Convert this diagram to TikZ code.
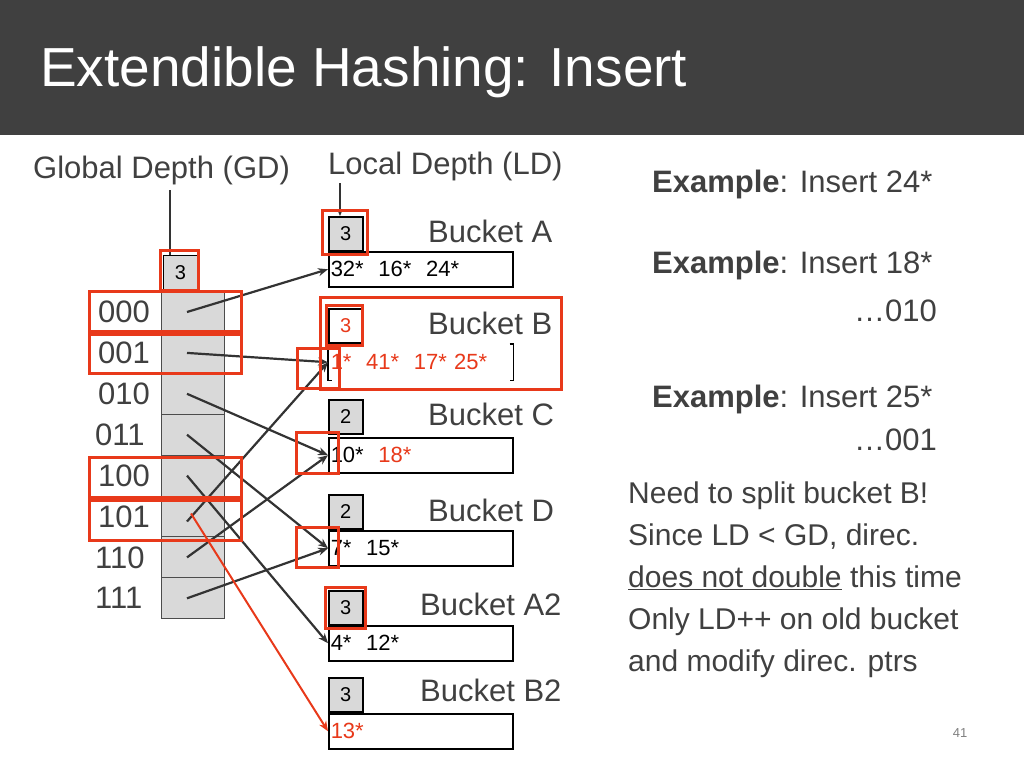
\documentclass[tikz,border=0pt]{standalone}
\usepackage{fontspec}
\setmainfont{Liberation Sans}
\usetikzlibrary{arrows.meta}
\definecolor{bar}{HTML}{404040}
\definecolor{txt}{HTML}{404040}
\definecolor{hl}{HTML}{E8391A}
\definecolor{cellg}{HTML}{D9D9D9}
\begin{document}
\begin{tikzpicture}[x=1pt,y=-1pt,
  cell/.style={draw=black!70,fill=cellg,minimum width=63pt,minimum height=40.9pt,inner sep=0pt,anchor=north west},
  ldbox/.style={draw=black,line width=1.5pt,fill=cellg,minimum width=34pt,minimum height=34pt,inner sep=0pt,anchor=north west,font=\fontsize{20}{20}\selectfont},
  bucket/.style={draw=black,line width=1.5pt,fill=white,minimum width=184pt,minimum height=35pt,inner sep=2pt,anchor=north west,text width=180pt,align=left,font=\fontsize{22}{22}\selectfont},
  lab/.style={text=txt,font=\fontsize{31}{31}\selectfont,inner sep=0pt},
  redbox/.style={draw=hl,line width=3pt},
  ptr/.style={draw=black!80,line width=2.2pt,-{Stealth[length=10pt,width=8pt]}},
  rptr/.style={draw=hl,line width=2pt,-{Stealth[length=10pt,width=8pt]}}]
\useasboundingbox (0,0) rectangle (1024,768);
\fill[bar] (0,0) rectangle (1024,135);
\node[anchor=west,text=white,font=\fontsize{55}{55}\selectfont,inner sep=0pt] (title) at (40,72) {Extendible Hashing: Insert};
% headers
\node[lab,anchor=west] (gdh) at (33,170) {Global Depth (GD)};
\node[lab,anchor=west] (ldh) at (328,166) {Local Depth (LD)};
% directory
\node[ldbox,line width=0.8pt] (gd) at (163,255) {3};
\foreach \i/\b in {0/000,1/001,2/010,3/011,4/100,5/101,6/110,7/111}{
  \node[cell] (c\i) at (161,{291+\i*40.9}) {};
  \node[lab,anchor=west] (l\i) at ({\i==3 ? 95 : (\i>5 ? 95 : 98)},{312+\i*40.9}) {\b};
  \coordinate (p\i) at (187,{312+\i*40.9});
}
\coordinate (gdtop) at (170,190);
\draw[black!80,line width=1.2pt] (gdtop) -- (gd.north west -| gdtop);
% buckets
\node[ldbox] (lda) at (328,216) {3};
\node[bucket] (ba) at (328,251) {32*\ \ 16*\ \ 24*};
\node[lab,anchor=west] (na) at (428,231) {Bucket A};
\node[ldbox,fill=white] (ldb) at (328,308) {\textcolor{hl}{3}};
\node[bucket,draw=none] (bb) at (328,344) {\textcolor{hl}{1*\ \ 41*\ \ 17* 25*}};
\draw[line width=1.5pt] ([xshift=4pt]bb.north west) -- (bb.north west) -- (bb.south west) -- ([xshift=4pt]bb.south west);
\draw[line width=1.5pt] ([xshift=-4pt]bb.north east) -- (bb.north east) -- (bb.south east) -- ([xshift=-4pt]bb.south east);
\node[lab,anchor=west] (nb) at (428,323) {Bucket B};
\node[ldbox] (ldc) at (328,399) {2};
\node[bucket] (bc) at (328,437) {10*\ \ \textcolor{hl}{18*}};
\node[lab,anchor=west] (nc) at (428,414) {Bucket C};
\node[ldbox] (ldd) at (328,494) {2};
\node[bucket] (bd) at (328,530) {7*\ \ 15*};
\node[lab,anchor=west] (nd) at (428,510) {Bucket D};
\node[ldbox] (lda2) at (328,590) {3};
\node[bucket] (ba2) at (328,625) {4*\ \ 12*};
\node[lab,anchor=west] (na2) at (420,604) {Bucket A2};
\node[ldbox] (ldb2) at (328,677) {3};
\node[bucket] (bb2) at (328,713) {\textcolor{hl}{13*}};
\node[lab,anchor=west] (nb2) at (420,690) {Bucket B2};
\coordinate (ldtop) at (340,183);
\draw[black!80,line width=1.2pt,-{Stealth[length=6pt,width=5pt]}] (ldtop) -- (lda.north -| ldtop);
% pointers
\draw[ptr] (p0) -- (ba.west);
\draw[ptr] (p1) -- (bb.west);
\draw[ptr] (p2) -- (bc.west);
\draw[ptr] (p3) -- (bd.west);
\draw[ptr] (p4) -- (ba2.west);
\draw[ptr] ([yshift=-5pt]p5) -- (bb.west);
\draw[ptr] (p6) -- (bc.west);
\draw[ptr] (p7) -- (bd.west);
\draw[rptr] ([shift={(4pt,3pt)}]p5) -- (bb2.west);
% red highlight boxes
\draw[redbox] (160,250) rectangle (198,290);
\draw[redbox] (322,210) rectangle (367,254);
\draw[redbox] (326,305) rectangle (362,345);
\draw[redbox] (320,297) rectangle (561,389);
\draw[redbox] (297,348) rectangle (339,388);
\draw[redbox] (296,432) rectangle (338,473);
\draw[redbox] (296,527) rectangle (338,567);
\draw[redbox] (325,587) rectangle (365,628);
\draw[redbox] (89,291) rectangle (241,331);
\draw[redbox] (89,334) rectangle (241,373);
\draw[redbox] (89,457) rectangle (241,497);
\draw[redbox] (89,500) rectangle (241,540);
% right text
\node[lab,anchor=west] (e1) at (652,184) {\textbf{Example}: Insert 24*};
\node[lab,anchor=west] (e2) at (652,265) {\textbf{Example}: Insert 18*};
\node[lab,anchor=east] (e2b) at (937,311) {…010};
\node[lab,anchor=west] (e3) at (652,399) {\textbf{Example}: Insert 25*};
\node[lab,anchor=east] (e3b) at (937,440) {…001};
\node[lab,anchor=north west,align=left,font=\fontsize{30}{42}\selectfont] (need) at (628,482) {Need to split bucket B!\\Since LD < GD, direc.\\\underline{does not double} this time\\Only LD++ on old bucket\\and modify direc. ptrs};
\node[text=black!50,font=\fontsize{13}{13}\selectfont,inner sep=0pt] (pg) at (960,733) {41};
\end{tikzpicture}
\end{document}
